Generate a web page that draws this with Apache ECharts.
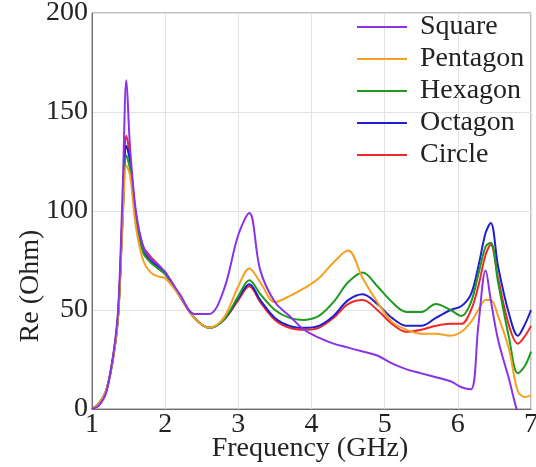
<!DOCTYPE html>
<html>
<head>
<meta charset="utf-8">
<script src="https://cdn.jsdelivr.net/npm/echarts@6/dist/echarts.min.js"></script>
<style>
    html, body { margin: 0; padding: 0; background: #fff; }
    #chart { width: 536px; height: 467px; }
</style>
</head>
<body>
<div id="chart"></div>
<script>
'use strict';

// 频率 (GHz)
var freq = [1.0, 1.1, 1.2, 1.3, 1.36, 1.42, 1.47, 1.52, 1.6, 1.7, 1.8, 1.9, 2.0, 2.2, 2.4, 2.6, 2.8, 3.0, 3.15, 3.3, 3.5, 3.7, 3.9, 4.1, 4.3, 4.5, 4.7, 4.9, 5.1, 5.3, 5.5, 5.7, 5.9, 6.05, 6.18, 6.28, 6.38, 6.45, 6.55, 6.7, 6.82, 6.92, 7.0];

var names = ['Square', 'Pentagon', 'Hexagon', 'Octagon', 'Circle'];
var colors = ['#8b32e8', '#f5a023', '#1e9b1e', '#1f1fd0', '#f02828'];

var square = [0, 2, 9, 30, 52, 112, 166, 132, 100, 82, 76, 73, 69, 58, 48, 48, 60, 88, 99, 70, 54, 47, 40, 36, 33, 31, 29, 27, 23, 20, 18, 16, 14, 11, 10, 42, 70, 55, 35, 15, -2, -10, -15];
var pentagon = [0, 3, 10, 28, 48, 95, 123, 118, 92, 75, 69, 67, 66, 57, 46, 41, 46, 62, 71, 64, 54, 57, 61, 66, 74, 80, 66, 54, 44, 40, 38, 38, 37, 39, 44, 50, 55, 55, 47, 30, 9, 6, 7];
var hexagon = [0, 3, 10, 28, 48, 97, 128, 121, 95, 79, 74, 71, 68, 57, 46, 41, 45, 57, 65, 58, 50, 46, 45, 47, 54, 64, 69, 62, 54, 49, 49, 53, 50, 47, 54, 68, 82, 84, 64, 36, 18, 22, 29];
var octagon = [0, 3, 10, 29, 49, 100, 133, 125, 97, 80, 75, 72, 69, 57, 46, 41, 45, 56, 63, 55, 46, 42, 41, 42, 47, 55, 58, 53, 46, 42, 42, 46, 50, 52, 58, 72, 89, 94, 72, 48, 37, 43, 50];
var circle = [0, 3, 10, 29, 49, 101, 138, 127, 98, 82, 77, 73, 69, 57, 46, 41, 45, 55, 62, 54, 45, 41, 40, 41, 46, 53, 55, 50, 43, 39, 40, 42, 43, 43, 50, 62, 78, 83, 66, 42, 33, 37, 42];

var xTicks = [1, 2, 3, 4, 5, 6, 7];
var yTicks = [0, 50, 100, 150, 200];

var fontFamily = "'Liberation Serif', 'Times New Roman', serif";

// 组合 [x, y]
function pairs(values) {
    var out = [];
    for (var i = 0; i < freq.length; i++) {
        out.push([freq[i], values[i]]);
    }
    return out;
}

var allValues = [square, pentagon, hexagon, octagon, circle];
var series = [];
for (var i = 0; i < names.length; i++) {
    series.push({
        name: names[i],
        type: 'line',
        data: pairs(allValues[i]),
        smooth: 0.35,
        symbol: 'none',
        clip: true,
        lineStyle: { color: colors[i], width: 2 },
        itemStyle: { color: colors[i] },
        z: 10 - i
    });
}

var option = {
    backgroundColor: '#fff',
    animation: false,
    grid: {
        left: 92, right: 5, top: 13, bottom: 58,
        outerBoundsMode: 'none',
        show: true, borderColor: '#808080', borderWidth: 1
    },
    legend: {
        orient: 'vertical',
        left: 352, top: 8,
        icon: 'rect',
        itemWidth: 50, itemHeight: 2,
        itemGap: 4,
        data: names,
        textStyle: {
            fontFamily: fontFamily, fontSize: 28, color: '#222',
            lineHeight: 28, padding: [0, 0, 0, 8]
        }
    },
    xAxis: {
        type: 'value',
        min: xTicks[0], max: xTicks[xTicks.length - 1], interval: 1,
        axisLine: { lineStyle: { color: '#707070' } },
        axisTick: { show: false },
        axisLabel: { fontFamily: fontFamily, fontSize: 28, color: '#222', margin: 2 },
        splitLine: { show: true, lineStyle: { color: '#e2e2e2' } }
    },
    yAxis: {
        type: 'value',
        min: yTicks[0], max: yTicks[yTicks.length - 1], interval: 50,
        axisLine: { show: true, lineStyle: { color: '#707070' } },
        axisTick: { show: false },
        axisLabel: { fontFamily: fontFamily, fontSize: 28, color: '#222', margin: 4 },
        splitLine: { show: true, lineStyle: { color: '#e2e2e2' } }
    },
    // 坐标轴标题
    graphic: [{
        type: 'text',
        x: 31, y: 286,
        rotation: Math.PI / 2,
        style: {
            text: 'Re (Ohm)',
            fontFamily: fontFamily, fontSize: 28, fill: '#222',
            align: 'center', verticalAlign: 'middle'
        }
    }, {
        type: 'text',
        x: 310, y: 449,
        style: {
            text: 'Frequency (GHz)',
            fontFamily: fontFamily, fontSize: 28, fill: '#222',
            align: 'center', verticalAlign: 'middle'
        }
    }],
    series: series
};

var myChart = echarts.init(document.getElementById('chart'));
myChart.setOption(option);
</script>
</body>
</html>
